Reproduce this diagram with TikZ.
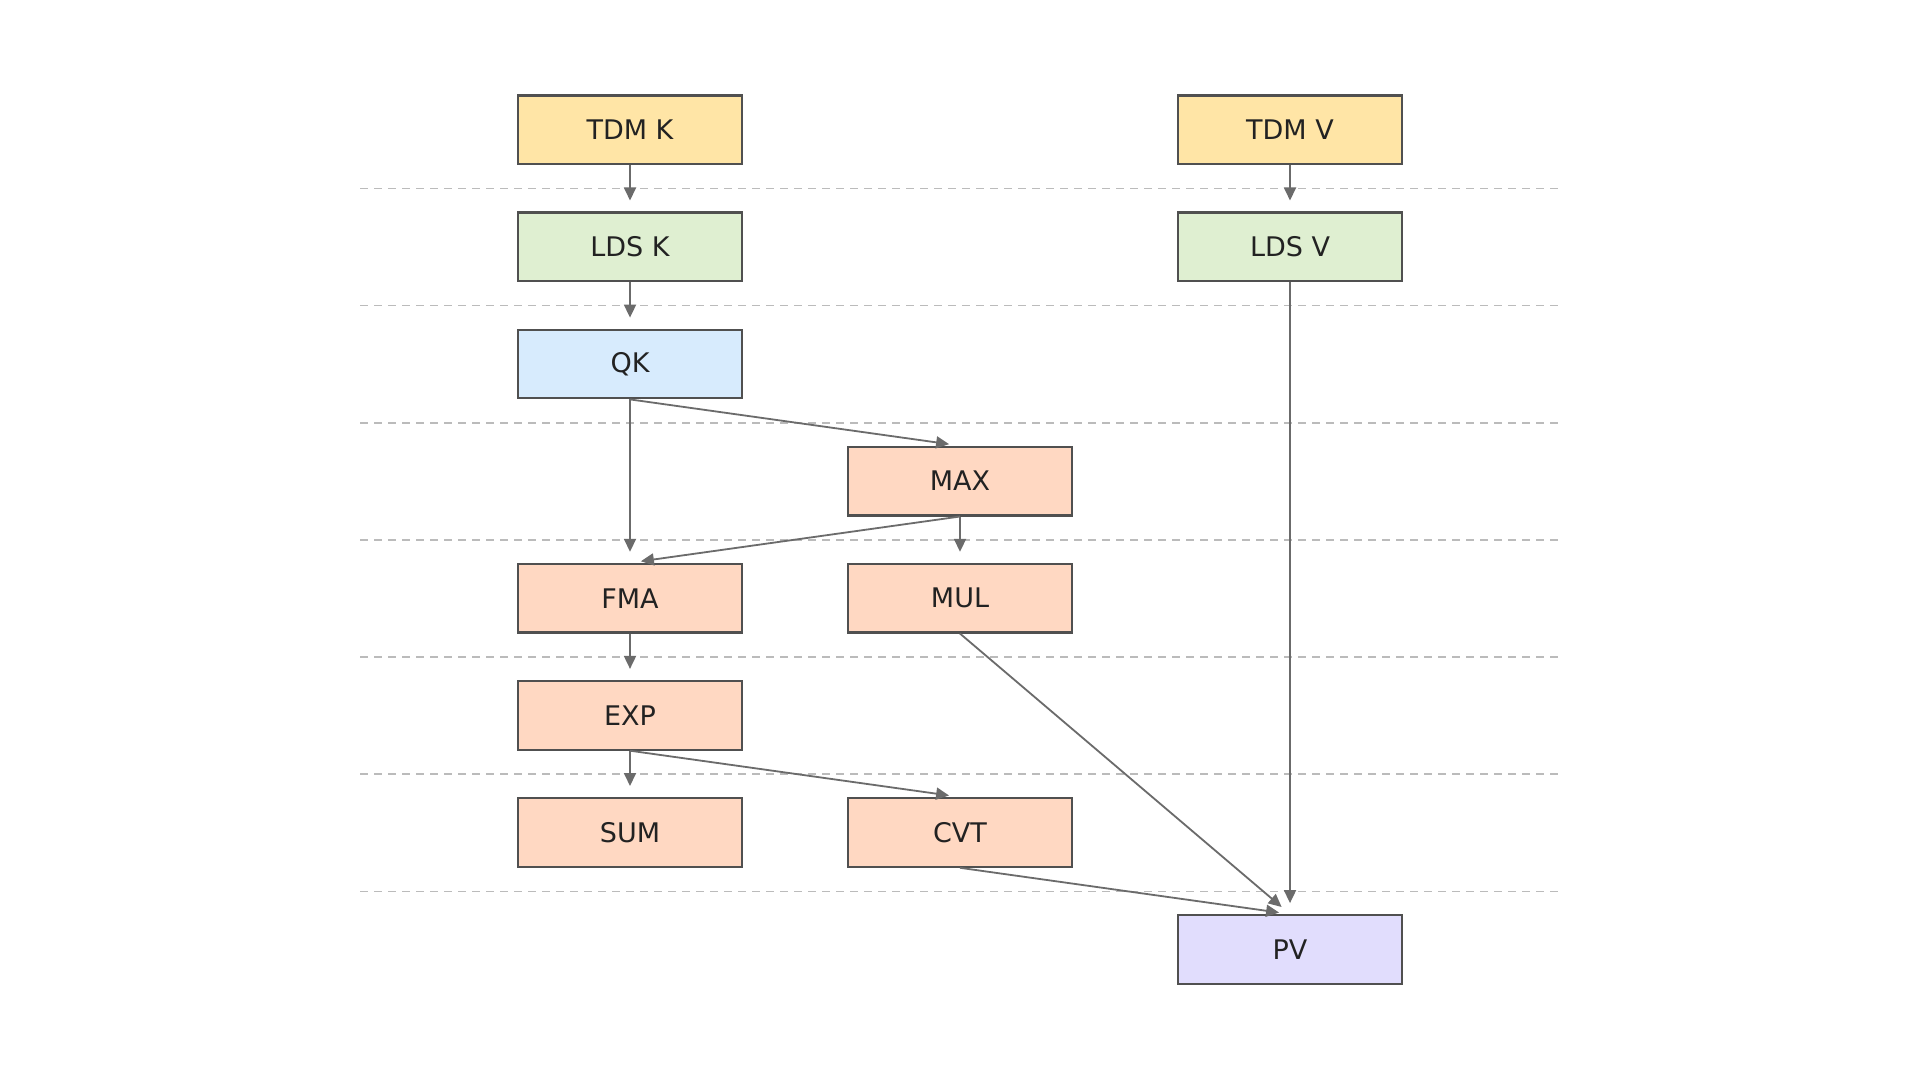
\documentclass[tikz,border=0pt]{standalone}
\usepackage{fontspec}
\setmainfont{DejaVu Sans}
\usetikzlibrary{arrows.meta}
\definecolor{tdmfill}{HTML}{FFE5A6}
\definecolor{ldsfill}{HTML}{DFEFD1}
\definecolor{qkfill}{HTML}{D7EBFD}
\definecolor{opfill}{HTML}{FFD8C2}
\definecolor{pvfill}{HTML}{E1DDFD}
\definecolor{boxline}{HTML}{505050}
\definecolor{edgecol}{HTML}{6B6B6B}
\definecolor{sepcol}{HTML}{BBBBBB}
\definecolor{txtcol}{HTML}{222222}
\tikzset{
  opbox/.style={draw=boxline, line width=1.1pt, minimum width=112pt, minimum height=34.3pt, inner sep=0pt, text=txtcol, font=\fontsize{13.5pt}{16pt}\selectfont},
  flow/.style={draw=edgecol, line width=0.9pt, -{Triangle[length=6.5pt,width=6pt]}, shorten >=5.5pt},
  sepline/.style={draw=sepcol, line width=0.7pt, dash pattern=on 4pt off 3pt}
}
\begin{document}
\begin{tikzpicture}[x=0.5pt,y=-0.5pt]
\useasboundingbox (0,0) rectangle (1920,1080);
\fill[white] (0,0) rectangle (1920,1080);
% separators
\foreach \k in {0,...,6} {
  \draw[sepline] (360,{188.6+117.1*\k}) -- (1560,{188.6+117.1*\k});
}
% nodes
\node[opbox, fill=tdmfill] (tdmk) at (630,129.8) {TDM K};
\node[opbox, fill=tdmfill] (tdmv) at (1290,129.8) {TDM V};
\node[opbox, fill=ldsfill] (ldsk) at (630,246.9) {LDS K};
\node[opbox, fill=ldsfill] (ldsv) at (1290,246.9) {LDS V};
\node[opbox, fill=qkfill] (qk) at (630,364.0) {QK};
\node[opbox, fill=opfill] (max) at (960,481.1) {MAX};
\node[opbox, fill=opfill] (fma) at (630,598.2) {FMA};
\node[opbox, fill=opfill] (mul) at (960,598.2) {MUL};
\node[opbox, fill=opfill] (exp) at (630,715.3) {EXP};
\node[opbox, fill=opfill] (sum) at (630,832.4) {SUM};
\node[opbox, fill=opfill] (cvt) at (960,832.4) {CVT};
\node[opbox, fill=pvfill] (pv) at (1290,949.5) {PV};
% edges
\draw[flow] (tdmk.south) -- (ldsk.north);
\draw[flow] (ldsk.south) -- (qk.north);
\draw[flow] (qk.south) -- (fma.north);
\draw[flow] (qk.south) -- (max.north);
\draw[flow] (max.south) -- (fma.north);
\draw[flow] (max.south) -- (mul.north);
\draw[flow] (fma.south) -- (exp.north);
\draw[flow] (exp.south) -- (sum.north);
\draw[flow] (exp.south) -- (cvt.north);
\draw[flow] (mul.south) -- (pv.north);
\draw[flow] (cvt.south) -- (pv.north);
\draw[flow] (tdmv.south) -- (ldsv.north);
\draw[flow] (ldsv.south) -- (pv.north);
\end{tikzpicture}
\end{document}
